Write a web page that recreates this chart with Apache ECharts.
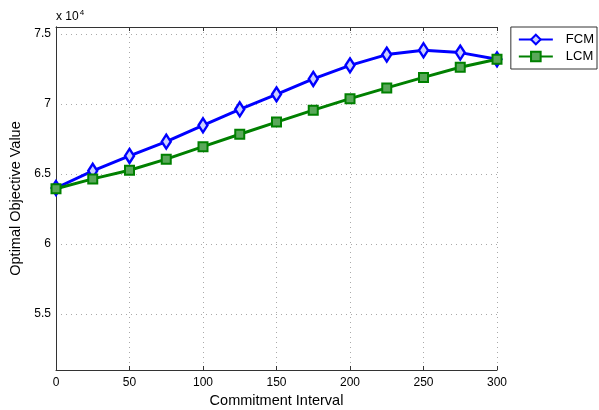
<!DOCTYPE html>
<html><head><meta charset="utf-8">
<script src="https://cdn.jsdelivr.net/npm/echarts@6/dist/echarts.min.js"></script>
<style>html,body{margin:0;padding:0;background:#fff}#c{width:599px;height:410px}</style>
</head><body><div id="c"></div>
<script>
const xValues = [0, 25, 50, 75, 100, 125, 150, 175, 200, 225, 250, 275, 300];
const fcm = [64000, 65230, 66290, 67310, 68480, 69620, 70690, 71790, 72760, 73530, 73840, 73670, 73190];
const lcm = [63950, 64650, 65270, 66060, 66950, 67840, 68710, 69560, 70380, 71150, 71900, 72620, 73190];
const yTicks = [55000, 60000, 65000, 70000, 75000];
const seriesNames = ['FCM', 'LCM'];

const font = 'Liberation Sans, Arial, sans-serif';
const chart = echarts.init(document.getElementById('c'));
chart.setOption({
  animation: false,
  grid: {left: 56, right: 102, top: 27, bottom: 40, outerBoundsMode: 'none', containLabel: false},
  legend: {
    right: 2, top: 27, orient: 'vertical', itemGap: 4,
    data: seriesNames,
    backgroundColor: '#fff', borderColor: '#333', borderWidth: 1,
    padding: [6, 3, 6, 7], itemWidth: 34, itemHeight: 12,
    textStyle: {fontFamily: font, fontSize: 13, color: '#000', padding: [0, 0, 0, 8]}
  },
  xAxis: [{
    type: 'value', min: 0, max: 300, interval: 50,
    name: 'Commitment Interval', nameLocation: 'middle', nameGap: 21,
    nameTextStyle: {fontFamily: font, fontSize: 14.5, color: '#000'},
    axisLine: {show: true, lineStyle: {color: '#333', width: 1}},
    axisTick: {show: true, inside: true, length: 4, lineStyle: {color: '#333'}},
    axisLabel: {fontFamily: font, fontSize: 12, color: '#000', margin: 7},
    splitLine: {show: true, lineStyle: {color: '#aaa', type: [1, 4], width: 1}}
  }, {
    type: 'value', min: 0, max: 300, interval: 50, position: 'top',
    axisLine: {show: true, lineStyle: {color: '#333', width: 1}},
    axisTick: {show: true, inside: true, length: 4, lineStyle: {color: '#333'}},
    axisLabel: {show: false}, splitLine: {show: false}
  }],
  yAxis: [{
    type: 'value', min: 51000, max: 75500,
    name: 'Optimal Objective Value', nameLocation: 'middle', nameGap: 19,
    nameTextStyle: {fontFamily: font, fontSize: 14.5, color: '#000'},
    axisLine: {show: true, lineStyle: {color: '#333', width: 1}},
    axisTick: {show: false},
    axisLabel: {fontFamily: font, fontSize: 12, color: '#000', margin: 5, customValues: yTicks,
      formatter: v => String(v / 10000)},
    splitLine: {show: true, lineStyle: {color: '#aaa', type: [1, 4], width: 1}, customValues: yTicks}
  }, {
    type: 'value', min: 51000, max: 75500, position: 'right',
    axisLine: {show: true, lineStyle: {color: '#333', width: 1}},
    axisTick: {show: false},
    axisLabel: {show: false}, splitLine: {show: false}
  }],
  graphic: [{
    type: 'text', left: 56, top: 9,
    style: {text: 'x 10{s|4}', fontFamily: font, fontSize: 12, fill: '#000',
      rich: {s: {fontSize: 8, verticalAlign: 'top', padding: [0, 0, 7, 1], fontFamily: font}}}
  }],
  series: [{
    name: seriesNames[0], type: 'line',
    data: xValues.map((x, i) => [x, fcm[i]]),
    symbol: 'diamond', symbolSize: [9, 14],
    lineStyle: {color: '#0000ff', width: 3},
    itemStyle: {color: '#ccd0ff', borderColor: '#0000ff', borderWidth: 2.5},
    z: 3
  }, {
    name: seriesNames[1], type: 'line',
    data: xValues.map((x, i) => [x, lcm[i]]),
    symbol: 'rect', symbolSize: 9,
    lineStyle: {color: '#008000', width: 3},
    itemStyle: {color: '#5aa85a', borderColor: '#008000', borderWidth: 2},
    z: 4
  }]
});
</script></body></html>
